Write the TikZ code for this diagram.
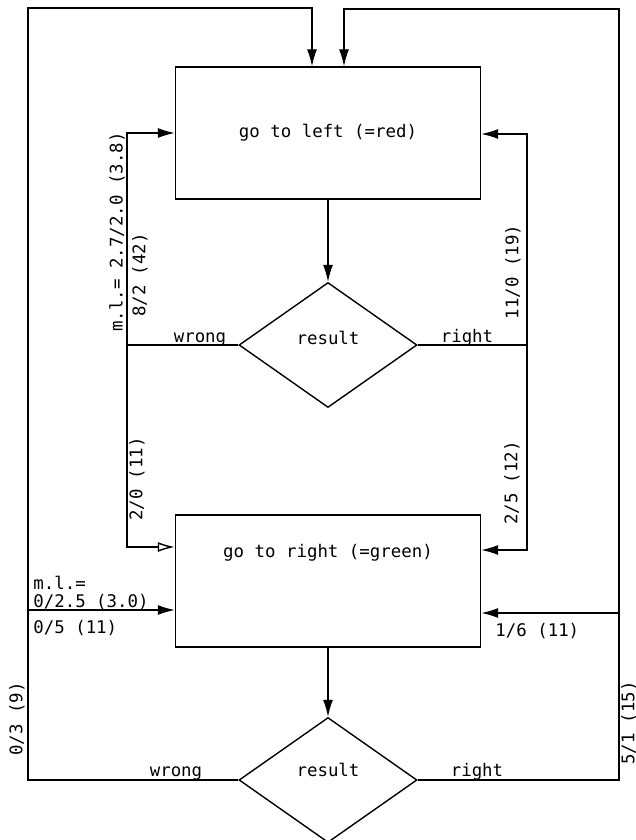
\documentclass[tikz,border=0pt]{standalone}
\usepackage{fontspec}
\setmonofont{DejaVu Sans Mono}
\usetikzlibrary{shapes.geometric,arrows.meta,positioning,calc}

\begin{document}
\begin{tikzpicture}[x=0.5pt, y=-0.5pt, font=\ttfamily\fontsize{8.7}{10}\selectfont,
    box/.style={rectangle, draw, line width=0.7pt, minimum width=152.5pt, minimum height=66pt, inner sep=0pt},
    decision/.style={diamond, draw, line width=0.7pt, minimum width=89pt, minimum height=62.5pt, inner sep=0pt},
    flow/.style={-{Latex[length=8.5pt,width=5pt]}, line width=0.7pt},
    flowopen/.style={-{Latex[open,length=8.5pt,width=5pt]}, line width=0.7pt}]
        \useasboundingbox (0,0) rectangle (636,840);

        \node[box] (golft) at (328,133) {go to left (=red)};
        \node[decision, label={[yshift=3.5pt]center:result}] (res1) at (328,345) {};
        \node[box] (gorgt) at (328,581) {};
        \node (gorgttxt) at (328,553) {go to right (=green)};
        \node[decision, label={[yshift=5pt]center:result}] (res2) at (328,780) {};

        \coordinate (lefttop) at (28,8);
        \coordinate (rghttop) at (619,9);
        \coordinate (ltop) at (127,133);
        \coordinate (lbot) at (127,547);
        \coordinate (rtop) at (527,134);
        \coordinate (rbot) at (527,550);
        \coordinate (lbranch) at (28,610);
        \coordinate (rbranch) at (619,613);

        \draw[flow] (golft) -- (res1);
        \draw[flow] (gorgt) -- (res2);

        \draw[flow] (res1.west) -| (ltop) -- (ltop -| golft.west);
        \draw[flowopen] (res1.west) -| (lbot) -- (lbot -| gorgt.west);
        \draw[flow] (res1.east) -| (rtop) -- (rtop -| golft.east);
        \draw[flow] (res1.east) -| (rbot) -- (rbot -| gorgt.east);

        \draw[flow] (res2.west) -| (lefttop) -| ([xshift=-8pt]golft.north);
        \draw[flow] (res2.east) -| (rghttop) -| ([xshift=8pt]golft.north);
        \draw[flow] (lbranch) -- (lbranch -| gorgt.west);
        \draw[flow] (rbranch) -- (rbranch -| gorgt.east);

        % Annotation
        \node[anchor=base] (wrong1) at (200,342) {wrong};
        \node[anchor=base] (right1) at (467,342) {right};
        \node[anchor=base] (wrong2) at (176,776) {wrong};
        \node[anchor=base] (right2) at (477,776) {right};

        \node[rotate=90] (mlleft) at (117,232) {m.l.= 2.7/2.0 (3.8)};
        \node[rotate=90] (cntleft) at (140,275) {8/2 (42)};
        \node[rotate=90] (cntright) at (513,272) {11/0 (19)};
        \node[rotate=90] (cntlow) at (137,479) {2/0 (11)};
        \node[rotate=90] (cntrlow) at (512,483) {2/5 (12)};
        \node[rotate=90] (cntouter) at (17,719) {0/3 (9)};
        \node[rotate=90] (cntrouter) at (629,723) {5/1 (15)};

        \node[anchor=base west, inner sep=0pt] (mlbot) at (33,589) {m.l.=};
        \node[anchor=base west, inner sep=0pt] (mlval) at (33,607) {0/2.5 (3.0)};
        \node[anchor=base west, inner sep=0pt] (cntbot) at (33,633) {0/5 (11)};
        \node[anchor=base west, inner sep=0pt] (cntrbot) at (495,636) {1/6 (11)};
\end{tikzpicture}
\end{document}
